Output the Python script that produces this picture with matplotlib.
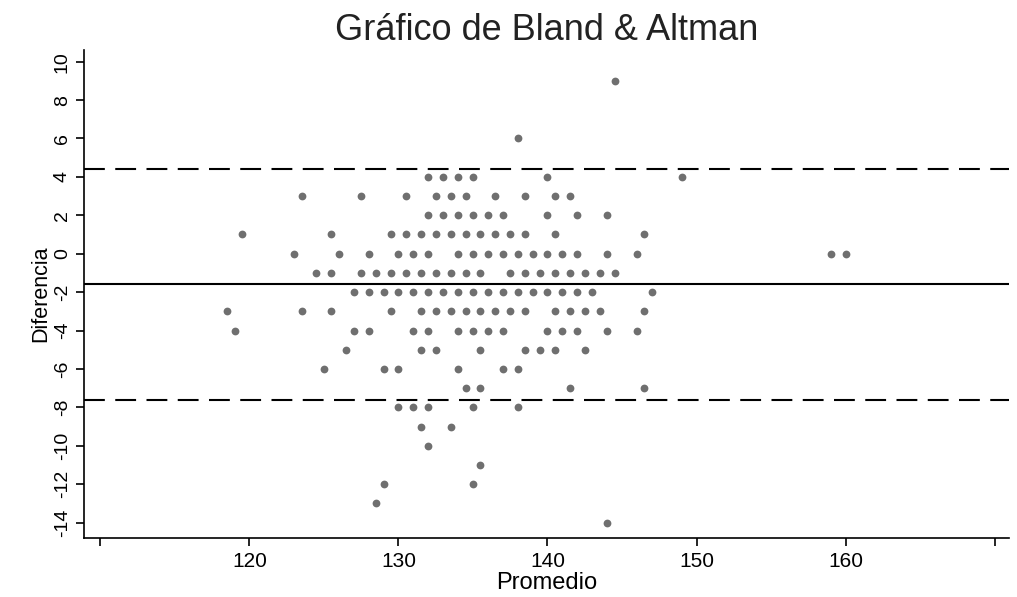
import matplotlib
matplotlib.use("Agg")
import matplotlib.pyplot as plt

plt.rcParams['font.family'] = ['Liberation Sans', 'DejaVu Sans']

# promedio (x) por fila de diferencia (y)
diff_rows = [9, 6, 4, 3, 2, 1, 0, -1, -2, -3, -4, -5, -6, -7, -8, -9, -10, -11, -12, -13, -14]
avg_rows = [
    [144.5],
    [138],
    [132, 133, 134, 135, 140, 149],
    [123.5, 127.5, 130.5, 132.5, 133.5, 134.5, 136.5, 138.5, 140.5, 141.5],
    [132, 133, 134, 135, 136, 137, 140, 142, 144],
    [119.5, 125.5, 129.5, 130.5, 131.5, 132.5, 133.5, 134.5, 135.5, 136.5, 137.5, 138.5, 140.5, 146.5],
    [123, 126, 128, 130, 131, 132, 134, 135, 136, 137, 138, 139, 140, 141, 142, 144, 146, 159, 160],
    [124.5, 125.5, 127.5, 128.5, 129.5, 130.5, 131.5, 132.5, 133.5, 134.5, 135.5, 137.5, 138.5,
     139.5, 140.5, 141.5, 142.5, 143.5, 144.5],
    [127, 128, 129, 130, 131, 132, 133, 134, 135, 136, 137, 138, 139, 140, 141, 142, 143, 147],
    [118.5, 123.5, 125.5, 129.5, 131.5, 132.5, 133.5, 134.5, 135.5, 136.5, 137.5, 138.5, 140.5,
     141.5, 142.5, 143.5, 146.5],
    [119, 127, 128, 131, 132, 134, 135, 136, 137, 140, 141, 142, 144, 146],
    [126.5, 131.5, 132.5, 135.5, 138.5, 139.5, 140.5, 142.5],
    [125, 129, 130, 134, 137, 138],
    [134.5, 135.5, 141.5, 146.5],
    [130, 131, 132, 135, 138],
    [131.5, 133.5],
    [132],
    [135.5],
    [129, 135],
    [128.5],
    [144],
]

mean_diff = -1.6
upper_loa = 4.4
lower_loa = -7.6

x_ticks = [110, 120, 130, 140, 150, 160, 170]
x_labels = ["", "120", "130", "140", "150", "160", ""]
y_ticks = list(range(-14, 11, 2))

promedio = [a for row in avg_rows for a in row]
diferencia = [d for d, row in zip(diff_rows, avg_rows) for _ in row]

fig = plt.figure(figsize=(10.17, 5.97), dpi=100)
ax = fig.add_axes([0.0826, 0.099, 0.91, 0.817])

ax.plot(promedio, diferencia, "o", color="#6f6f6f", markersize=5.6, markeredgewidth=0, zorder=3)

ax.axhline(upper_loa, color="black", linewidth=1.5, linestyle=(0, (10, 5)))
ax.axhline(mean_diff, color="black", linewidth=1.5)
ax.axhline(lower_loa, color="black", linewidth=1.5, linestyle=(0, (10, 5)))

ax.set_xlim(108.9, 171.0)
ax.set_ylim(-14.8, 10.6)
ax.set_xticks(x_ticks)
ax.set_xticklabels(x_labels)
ax.set_yticks(y_ticks)
ax.set_yticklabels([str(v) for v in y_ticks], rotation=90, va="center")

ax.spines["top"].set_visible(False)
ax.spines["right"].set_visible(False)
for s in ("left", "bottom"):
    ax.spines[s].set_linewidth(1.2)
ax.tick_params(direction="out", length=6, width=1.2, labelsize=14)
ax.tick_params(axis="x", labelsize=15, pad=4)

ax.set_xlabel("Promedio", fontsize=17, labelpad=1)
ax.set_ylabel("Diferencia", fontsize=15.5, labelpad=2)
ax.set_title("Gráfico de Bland & Altman", fontsize=26, color="#222222", pad=7)

fig.savefig("out.png", dpi=100)
